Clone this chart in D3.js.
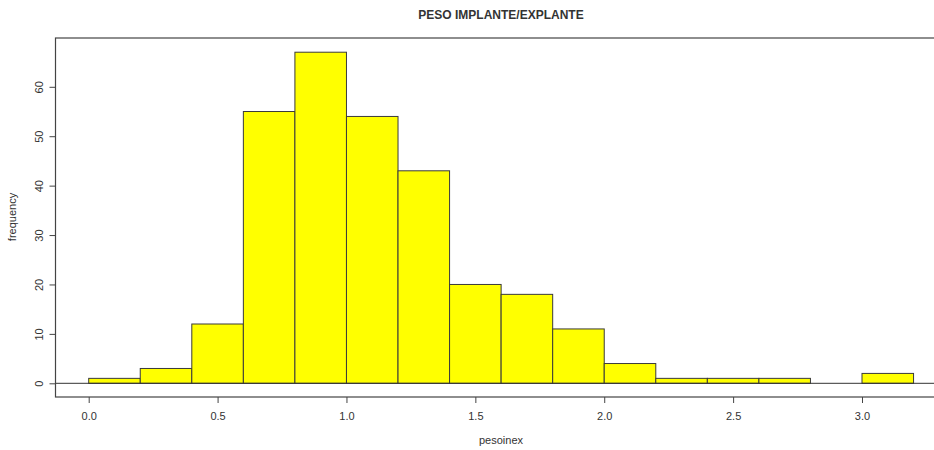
<!DOCTYPE html>
<html>
<head>
<meta charset="utf-8">
<script src="https://cdn.jsdelivr.net/npm/d3@7/dist/d3.min.js"></script>
<style>
  html, body { margin: 0; padding: 0; background: #fff; }
  svg { display: block; }
  text { font-family: "Liberation Sans", Arial, sans-serif; fill: #333; }
</style>
</head>
<body>
<svg id="chart" width="934" height="450"></svg>
<script>
// Histogram bins (width 0.2) and their counts
const binStarts = [0.0, 0.2, 0.4, 0.6, 0.8, 1.0, 1.2, 1.4, 1.6, 1.8, 2.0, 2.2, 2.4, 2.6, 2.8, 3.0];
const binWidth = 0.2;
const counts = [1, 3, 12, 55, 67, 54, 43, 20, 18, 11, 4, 1, 1, 1, 0, 2];
const xTicks = [0.0, 0.5, 1.0, 1.5, 2.0, 2.5, 3.0];
const yTicks = [0, 10, 20, 30, 40, 50, 60];
const title = "PESO IMPLANTE/EXPLANTE";
const xTitle = "pesoinex";
const yTitle = "frequency";

const svg = d3.select("#chart");

// Plot box (extends slightly past the right edge of the window)
const box = { left: 55.5, right: 947, top: 38, bottom: 397 };

const x = d3.scaleLinear().domain([0, 3.0]).range([88.7, 862]);
const y = d3.scaleLinear().domain([0, 60]).range([383.3, 86.8]);

// Bars
svg.append("g")
  .selectAll("rect")
  .data(binStarts.map((s, i) => ({ s, n: counts[i] })).filter(d => d.n > 0))
  .join("rect")
  .attr("x", d => x(d.s))
  .attr("y", d => y(d.n))
  .attr("width", d => x(d.s + binWidth) - x(d.s))
  .attr("height", d => y(0) - y(d.n))
  .attr("fill", "#ffff00")
  .attr("stroke", "#3a3a3a")
  .attr("stroke-width", 1);

// Zero reference line
svg.append("line")
  .attr("x1", box.left).attr("x2", box.right)
  .attr("y1", y(0)).attr("y2", y(0))
  .attr("stroke", "#333").attr("stroke-width", 1);

// Frame
svg.append("rect")
  .attr("x", box.left).attr("y", box.top)
  .attr("width", box.right - box.left).attr("height", box.bottom - box.top)
  .attr("fill", "none").attr("stroke", "#444").attr("stroke-width", 1.2);

// X axis
const xAxis = d3.axisBottom(x).tickValues(xTicks).tickFormat(d3.format(".1f"))
  .tickSize(6).tickPadding(9);
const gx = svg.append("g").attr("transform", `translate(0,${box.bottom})`).call(xAxis);
gx.select(".domain").remove();
gx.selectAll("line").attr("stroke", "#444");
gx.selectAll("text").attr("font-size", 11).attr("fill", "#444")
  .attr("font-family", "'Liberation Sans', Arial, sans-serif");

// Y axis (rotated labels)
const yAxis = d3.axisLeft(y).tickValues(yTicks).tickFormat(d3.format("d"))
  .tickSize(6).tickPadding(0);
const gy = svg.append("g").attr("transform", `translate(${box.left},0)`).call(yAxis);
gy.select(".domain").remove();
gy.selectAll("line").attr("stroke", "#444");
gy.selectAll("text")
  .attr("font-size", 11).attr("fill", "#444")
  .attr("font-family", "'Liberation Sans', Arial, sans-serif")
  .attr("x", null).attr("dy", null)
  .attr("text-anchor", "middle")
  .attr("transform", "translate(-13,0) rotate(-90)");

// Titles
svg.append("text")
  .attr("x", 501).attr("y", 19)
  .attr("text-anchor", "middle")
  .attr("font-size", 12).attr("font-weight", "bold").attr("fill", "#111")
  .text(title);

svg.append("text")
  .attr("x", 501).attr("y", 444)
  .attr("text-anchor", "middle")
  .attr("font-size", 11).attr("fill", "#444")
  .text(xTitle);

svg.append("text")
  .attr("transform", `translate(16,217) rotate(-90)`)
  .attr("text-anchor", "middle")
  .attr("font-size", 11).attr("fill", "#444")
  .text(yTitle);
</script>
</body>
</html>
